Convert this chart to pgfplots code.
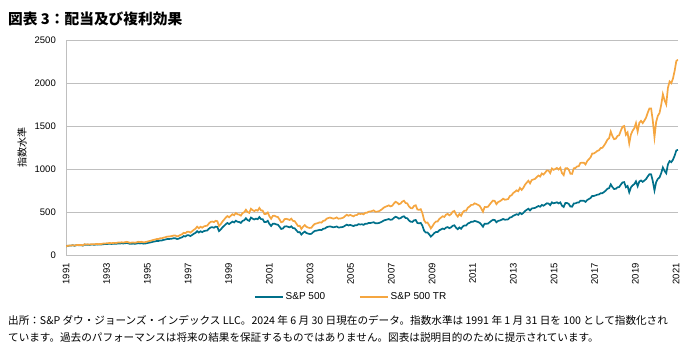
\documentclass[border=0pt]{standalone}
\usepackage{fontspec}
\setmainfont{Liberation Sans}
\newfontfamily\jp{Noto Sans CJK JP}
\usepackage{pgfplots}
\usepackage{pgfplotstable}
\pgfplotsset{compat=1.18}
\definecolor{spteal}{RGB}{0,112,138}
\definecolor{sporange}{RGB}{245,166,64}
\definecolor{gridgray}{RGB}{191,191,191}

\pgfplotstableread{
m p tr
0 100.0 100.0
1 106.7 107.0
2 109.1 109.7
3 109.1 110.0
4 113.3 114.5
5 107.9 109.4
6 112.8 114.6
7 115.0 117.2
8 112.8 115.3
9 114.1 116.9
10 109.1 112.1
11 121.3 124.9
12 118.9 122.8
13 120.0 124.2
14 117.4 121.8
15 120.6 125.4
16 120.8 126.0
17 118.7 124.1
18 123.3 129.2
19 120.4 126.5
20 121.5 127.9
21 121.7 128.5
22 125.4 132.7
23 126.7 134.4
24 127.6 135.7
25 128.9 137.4
26 131.3 140.2
27 128.0 137.0
28 130.9 140.5
29 131.0 140.9
30 130.3 140.5
31 134.8 145.6
32 133.4 144.5
33 136.0 147.6
34 134.3 146.1
35 135.6 147.8
36 140.0 153.0
37 135.8 148.8
38 129.6 142.3
39 131.1 144.3
40 132.7 146.4
41 129.2 142.9
42 133.2 147.6
43 138.3 153.6
44 134.5 149.8
45 137.3 153.2
46 131.9 147.6
47 133.5 149.7
48 136.8 153.7
49 141.7 159.6
50 145.6 164.3
51 149.7 169.3
52 155.1 175.8
53 158.4 179.9
54 163.4 186.0
55 163.4 186.4
56 169.9 194.2
57 169.1 193.7
58 176.0 202.0
59 179.1 206.1
60 184.9 213.1
61 186.2 215.0
62 187.7 217.2
63 190.2 220.5
64 194.6 226.0
65 195.0 226.9
66 186.1 216.9
67 189.6 221.4
68 199.8 233.7
69 205.1 240.4
70 220.1 258.4
71 215.4 253.4
72 228.6 269.3
73 229.9 271.3
74 220.1 260.1
75 233.0 275.8
76 246.6 292.3
77 257.4 305.5
78 277.5 329.9
79 261.5 311.3
80 275.4 328.4
81 265.9 317.5
82 277.8 332.2
83 282.2 338.0
84 285.0 341.8
85 305.1 366.4
86 320.3 385.1
87 323.3 389.2
88 317.2 382.3
89 329.7 397.9
90 325.8 393.7
91 278.3 336.7
92 295.7 358.2
93 319.4 387.4
94 338.3 410.8
95 357.4 434.5
96 372.1 452.9
97 360.1 438.7
98 374.0 456.1
99 388.2 474.0
100 378.5 462.6
101 399.1 488.3
102 386.3 473.1
103 383.9 470.7
104 373.0 457.8
105 396.3 486.9
106 403.8 496.6
107 427.2 525.9
108 405.4 499.5
109 397.3 490.0
110 435.7 537.9
111 422.3 521.8
112 413.0 510.8
113 422.9 523.5
114 416.0 515.5
115 441.3 547.3
116 417.7 518.5
117 415.6 516.4
118 382.3 475.4
119 383.9 477.9
120 397.2 494.9
121 360.5 449.7
122 337.4 421.3
123 363.3 454.1
124 365.1 456.9
125 356.0 446.0
126 352.2 441.7
127 329.6 413.7
128 302.7 380.4
129 308.1 387.6
130 331.3 417.2
131 333.8 420.8
132 328.6 414.8
133 321.8 406.8
134 333.6 422.3
135 313.1 396.9
136 310.3 393.9
137 287.8 365.9
138 265.1 337.5
139 266.4 339.6
140 237.0 302.5
141 257.5 329.2
142 272.2 348.4
143 255.8 327.9
144 248.8 319.4
145 244.6 314.5
146 246.6 317.5
147 266.6 343.8
148 280.2 361.9
149 283.3 366.4
150 287.9 373.0
151 293.1 380.3
152 289.6 376.3
153 305.5 397.5
154 307.7 401.0
155 323.3 422.0
156 328.9 429.9
157 332.9 435.8
158 327.5 429.3
159 322.0 422.7
160 325.8 428.3
161 331.7 436.7
162 320.3 422.3
163 321.1 423.9
164 324.1 428.5
165 328.6 435.1
166 341.3 452.6
167 352.4 467.9
168 343.5 456.8
169 350.0 466.2
170 343.3 458.0
171 336.4 449.5
172 346.4 463.5
173 346.4 464.2
174 358.8 481.6
175 354.8 476.9
176 357.3 481.0
177 350.9 473.1
178 363.3 490.6
179 362.9 490.8
180 372.2 504.2
181 372.4 505.3
182 376.5 511.6
183 381.1 518.7
184 369.3 503.5
185 369.3 504.3
186 371.2 507.7
187 379.1 519.3
188 388.4 532.9
189 400.7 550.6
190 407.2 560.5
191 412.4 568.5
192 418.2 577.4
193 409.0 565.6
194 413.1 572.3
195 431.0 598.0
196 445.0 618.4
197 437.1 608.4
198 423.1 589.8
199 428.6 598.5
200 443.9 620.8
201 450.5 631.1
202 430.7 604.3
203 426.9 599.9
204 400.8 564.4
205 386.9 545.9
206 384.6 543.7
207 402.9 570.8
208 407.2 578.0
209 372.2 529.4
210 368.5 525.2
211 373.0 532.7
212 339.1 485.2
213 281.7 403.9
214 260.6 374.4
215 262.6 378.0
216 240.1 346.3
217 213.7 308.9
218 232.0 336.0
219 253.8 368.3
220 267.2 388.5
221 267.3 389.5
222 287.1 419.1
223 296.8 434.2
224 307.4 450.6
225 301.3 442.5
226 318.6 468.9
227 324.2 478.0
228 312.2 461.1
229 321.1 475.1
230 340.0 503.9
231 345.0 512.2
232 316.8 471.1
233 299.7 446.4
234 320.3 477.9
235 305.1 456.0
236 331.8 496.7
237 344.0 515.9
238 343.3 515.7
239 365.7 550.2
240 373.9 563.5
241 385.9 582.7
242 385.5 583.1
243 396.5 600.7
244 391.1 593.6
245 384.0 583.8
246 375.7 572.2
247 354.4 540.7
248 329.0 502.8
249 364.4 557.9
250 362.6 556.1
251 365.7 561.8
252 381.6 587.3
253 397.1 612.4
254 409.5 632.7
255 406.5 629.2
256 381.0 590.9
257 396.1 615.5
258 401.0 624.2
259 409.0 637.9
260 418.9 654.6
261 410.6 642.8
262 411.8 645.9
263 414.7 651.6
264 435.6 685.7
265 440.4 694.5
266 456.3 720.9
267 464.5 735.1
268 474.2 751.8
269 467.0 741.7
270 490.1 779.8
271 474.8 756.8
272 488.9 780.7
273 510.7 816.9
274 525.1 841.5
275 537.4 862.7
276 518.3 833.5
277 540.6 870.8
278 544.4 878.4
279 547.8 885.4
280 559.3 905.6
281 569.9 924.3
282 561.4 912.0
283 582.5 948.0
284 573.5 934.9
285 586.8 958.2
286 601.2 983.4
287 598.6 980.7
288 580.1 952.1
289 611.9 1006.1
290 601.3 990.3
291 606.4 1000.5
292 612.7 1012.7
293 599.9 993.3
294 611.7 1014.6
295 573.4 952.6
296 558.3 929.2
297 604.6 1008.0
298 604.9 1010.2
299 594.3 994.2
300 564.1 945.5
301 561.8 943.4
302 598.9 1007.6
303 600.5 1012.2
304 609.7 1029.7
305 610.3 1032.6
306 632.0 1071.4
307 631.2 1071.9
308 630.4 1072.6
309 618.2 1053.8
310 639.3 1091.9
311 651.0 1113.9
312 662.6 1135.7
313 687.2 1179.8
314 687.0 1181.4
315 693.2 1194.1
316 701.3 1210.1
317 704.6 1217.8
318 718.3 1243.5
319 718.6 1246.1
320 732.5 1272.3
321 748.8 1302.8
322 769.8 1341.5
323 777.4 1357.0
324 821.0 1435.4
325 789.1 1381.8
326 767.9 1346.8
327 769.9 1352.5
328 786.6 1384.0
329 790.4 1392.8
330 818.9 1445.4
331 843.6 1491.3
332 847.3 1500.2
333 788.5 1398.3
334 802.5 1425.4
335 728.9 1296.7
336 786.2 1401.0
337 809.6 1445.1
338 824.1 1473.5
339 856.5 1534.0
340 800.2 1435.6
341 855.3 1536.9
342 866.6 1559.8
343 850.9 1534.1
344 865.5 1563.0
345 883.2 1597.6
346 913.3 1654.8
347 939.4 1704.9
348 937.8 1704.6
349 859.0 1563.7
350 751.5 1370.1
351 846.8 1546.2
352 885.2 1618.7
353 901.4 1650.7
354 951.1 1744.4
355 1017.7 1869.3
356 977.8 1798.8
357 950.8 1751.7
358 1053.0 1942.9
359 1092.1 2018.0
360 1079.9 1997.6
361 1108.1 2052.0
362 1155.2 2141.5
363 1215.7 2256.1
364 1222.4 2271.0
}\spdata

\begin{document}
\begin{tikzpicture}
\begin{axis}[
  scale only axis, width=612pt, height=215pt,
  at={(66pt,-255pt)}, anchor=south west,
  xmin=0, xmax=364, ymin=0, ymax=2500,
  axis x line*=bottom, axis y line*=left,
  axis line style={draw=gridgray, line width=0.8pt},
  ytick={0,500,1000,1500,2000,2500},
  ymajorgrids, grid style={draw=gridgray, line width=0.8pt},
  major tick length=0pt,
  xtick={0,24.19,48.38,72.57,96.76,120.95,145.14,169.33,193.52,217.71,241.9,266.09,290.28,314.47,338.66,362.85},
  xticklabels={1991,1993,1995,1997,1999,2001,2003,2005,2007,2009,2011,2013,2015,2017,2019,2021},
  xticklabel style={font=\fontsize{9.5}{11}\selectfont, yshift=-8pt, rotate=90, anchor=east, inner sep=0pt},
  yticklabel style={font=\fontsize{9.5}{11}\selectfont, anchor=east, inner sep=0pt, xshift=-10pt},
  /pgf/number format/assume math mode=true,
  /pgf/number format/1000 sep={},
  scaled y ticks=false,
  legend style={at={(0.466,-0.195)}, anchor=center, draw=none, fill=none,
    legend columns=2, font=\fontsize{10}{12}\selectfont, inner sep=0pt,
    /tikz/every even column/.append style={column sep=32pt}},
  legend image code/.code={\draw[#1, line width=1.6pt] (0pt,0pt) -- (28pt,0pt);},
]
\addplot[spteal, line width=1.7pt] table[x=m, y=p]{\spdata};
\addplot[sporange, line width=1.7pt] table[x=m, y=tr]{\spdata};
\legend{S\&P 500, S\&P 500 TR}
\end{axis}
\node[anchor=west, inner sep=0pt, font=\jp\bfseries\fontsize{14.7}{17}\selectfont] at (8pt,-19pt) {図表 3：配当及び複利効果};
\node[rotate=90, inner sep=0pt, font=\jp\fontsize{10}{12}\selectfont] at (22pt,-147pt) {指数水準};
\node[anchor=west, inner sep=0pt, font=\jp\fontsize{10.6}{12}\selectfont] at (8pt,-320pt) {出所：S\&P ダウ・ジョーンズ・インデックス LLC。2024 年 6 月 30 日現在のデータ。指数水準は 1991 年 1 月 31 日を 100 として指数化され};
\node[anchor=west, inner sep=0pt, font=\jp\fontsize{10.6}{12}\selectfont] at (8pt,-337pt) {ています。過去のパフォーマンスは将来の結果を保証するものではありません。図表は説明目的のために提示されています。};
\pgfresetboundingbox
\path[use as bounding box] (0pt,0pt) rectangle (697pt,-351pt);
\end{tikzpicture}
\end{document}
